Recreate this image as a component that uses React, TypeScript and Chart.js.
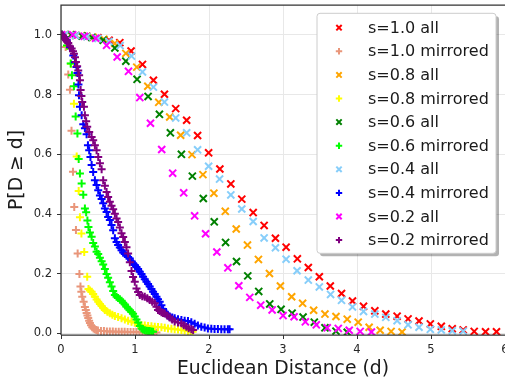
import React, { useEffect, useRef } from "react";
import { Chart, registerables } from "chart.js";

Chart.register(...registerables);

const seriesLabels = [
  "s=1.0 all", "s=1.0 mirrored", "s=0.8 all", "s=0.8 mirrored", "s=0.6 all",
  "s=0.6 mirrored", "s=0.4 all", "s=0.4 mirrored", "s=0.2 all", "s=0.2 mirrored",
];
const seriesColors = [
  "#ff0000", "#e9967a", "#ffa500", "#ffff00", "#008000",
  "#00ff00", "#87cefa", "#0000ff", "#ff00ff", "#800080",
];
const seriesMarkers = [
  "crossRot", "cross", "crossRot", "cross", "crossRot",
  "cross", "crossRot", "cross", "crossRot", "cross",
];

const xTicks = [0, 1, 2, 3, 4, 5, 6];
const yTicks = [0, 0.2, 0.4, 0.6, 0.8, 1.0];

type P = [number, number];

const s10All: P[] = [
  [0.05, 1.0], [0.2, 0.998], [0.35, 0.995], [0.5, 0.99], [0.65, 0.982], [0.795, 0.974], [0.947, 0.946],
  [1.101, 0.901], [1.249, 0.848], [1.398, 0.801], [1.55, 0.753], [1.698, 0.714], [1.846, 0.663],
  [1.995, 0.605], [2.147, 0.551], [2.295, 0.501], [2.443, 0.45], [2.597, 0.405], [2.745, 0.362],
  [2.898, 0.319], [3.042, 0.289], [3.194, 0.25], [3.342, 0.221], [3.491, 0.19], [3.639, 0.159],
  [3.791, 0.134], [3.939, 0.109], [4.088, 0.091], [4.241, 0.076], [4.389, 0.065], [4.542, 0.058],
  [4.69, 0.049], [4.838, 0.042], [4.991, 0.032], [5.139, 0.024], [5.287, 0.016], [5.435, 0.012],
  [5.584, 0.007], [5.737, 0.006], [5.885, 0.006],
];

const s10Mirrored: P[] = [
  [0.013, 1.0], [0.027, 0.995], [0.04, 0.988], [0.063, 0.959], [0.098, 0.867], [0.121, 0.816],
  [0.142, 0.679], [0.162, 0.542], [0.179, 0.424], [0.202, 0.347], [0.225, 0.268], [0.249, 0.199],
  [0.263, 0.157], [0.275, 0.14], [0.287, 0.123], [0.306, 0.106], [0.323, 0.089], [0.335, 0.079],
  [0.346, 0.069], [0.357, 0.06], [0.368, 0.052], [0.38, 0.043], [0.391, 0.035], [0.405, 0.028],
  [0.422, 0.021], [0.44, 0.017], [0.458, 0.014], [0.478, 0.012], [0.499, 0.01], [0.54, 0.008],
  [0.58, 0.008], [0.62, 0.007], [0.66, 0.007], [0.7, 0.007], [0.74, 0.006], [0.78, 0.006],
  [0.82, 0.006], [0.86, 0.006], [0.9, 0.005], [0.94, 0.005], [0.98, 0.005], [1.02, 0.005],
  [1.06, 0.004], [1.1, 0.004], [1.14, 0.004], [1.18, 0.004], [1.22, 0.003], [1.26, 0.003], [1.29, 0.003],
];

const s08All: P[] = [
  [0.136, 1.0], [0.284, 0.997], [0.432, 0.992], [0.58, 0.985], [0.728, 0.971], [0.876, 0.938],
  [1.024, 0.892], [1.173, 0.828], [1.321, 0.774], [1.469, 0.725], [1.617, 0.664], [1.77, 0.599],
  [1.918, 0.532], [2.066, 0.47], [2.22, 0.409], [2.368, 0.35], [2.52, 0.296], [2.668, 0.248],
  [2.817, 0.201], [2.965, 0.159], [3.117, 0.123], [3.265, 0.101], [3.414, 0.078], [3.567, 0.065],
  [3.716, 0.057], [3.868, 0.048], [4.016, 0.038], [4.164, 0.021], [4.313, 0.011], [4.461, 0.007],
  [4.609, 0.005],
];

const s08Mirrored: P[] = [
  [0.013, 1.0], [0.04, 0.993], [0.081, 0.963], [0.135, 0.903], [0.175, 0.769], [0.212, 0.593],
  [0.239, 0.477], [0.256, 0.389], [0.276, 0.335], [0.314, 0.273], [0.354, 0.19], [0.371, 0.149],
  [0.391, 0.144], [0.414, 0.14], [0.435, 0.132], [0.458, 0.123], [0.481, 0.114], [0.503, 0.106],
  [0.526, 0.099], [0.549, 0.092], [0.571, 0.085], [0.593, 0.079], [0.627, 0.073], [0.66, 0.068],
  [0.694, 0.063], [0.728, 0.059], [0.772, 0.055], [0.818, 0.051], [0.863, 0.047], [0.907, 0.043],
  [0.953, 0.039], [0.997, 0.036], [1.042, 0.032], [1.088, 0.028], [1.132, 0.027], [1.177, 0.025],
  [1.222, 0.024], [1.267, 0.023], [1.311, 0.022], [1.357, 0.021], [1.402, 0.019], [1.446, 0.017],
  [1.492, 0.016], [1.536, 0.014], [1.581, 0.013], [1.627, 0.012], [1.671, 0.01], [1.716, 0.008],
  [1.752, 0.007], [1.779, 0.006],
];

const s06All: P[] = [
  [0.136, 1.0], [0.284, 0.996], [0.418, 0.991], [0.57, 0.982], [0.728, 0.956], [0.876, 0.912],
  [1.028, 0.851], [1.177, 0.794], [1.33, 0.734], [1.478, 0.672], [1.627, 0.6], [1.775, 0.527],
  [1.923, 0.452], [2.071, 0.374], [2.224, 0.305], [2.372, 0.241], [2.524, 0.193], [2.672, 0.141],
  [2.821, 0.099], [2.974, 0.081], [3.123, 0.068], [3.271, 0.055], [3.423, 0.038], [3.567, 0.019],
  [3.716, 0.008], [3.868, 0.004],
];

const s06Mirrored: P[] = [
  [0.013, 1.0], [0.04, 0.99], [0.081, 0.964], [0.131, 0.904], [0.148, 0.865], [0.175, 0.828],
  [0.198, 0.727], [0.222, 0.67], [0.239, 0.584], [0.256, 0.536], [0.279, 0.502], [0.301, 0.465],
  [0.323, 0.419], [0.34, 0.406], [0.357, 0.378], [0.371, 0.357], [0.391, 0.338], [0.414, 0.324],
  [0.435, 0.303], [0.458, 0.291], [0.481, 0.274], [0.503, 0.266], [0.526, 0.254], [0.549, 0.242],
  [0.57, 0.231], [0.593, 0.216], [0.616, 0.199], [0.637, 0.187], [0.66, 0.172], [0.683, 0.157],
  [0.705, 0.142], [0.728, 0.129], [0.751, 0.123], [0.772, 0.119], [0.795, 0.115], [0.818, 0.11],
  [0.84, 0.103], [0.863, 0.097], [0.885, 0.09], [0.907, 0.084], [0.93, 0.078], [0.953, 0.072],
  [0.974, 0.066], [0.997, 0.057], [1.02, 0.047], [1.042, 0.037], [1.065, 0.025], [1.088, 0.017],
  [1.109, 0.013], [1.132, 0.011], [1.155, 0.009], [1.177, 0.008], [1.199, 0.008], [1.222, 0.007],
  [1.244, 0.006],
];

const s04All: P[] = [
  [0.05, 1.0], [0.2, 0.998], [0.35, 0.994], [0.5, 0.988], [0.647, 0.978], [0.799, 0.964],
  [0.953, 0.929], [1.101, 0.876], [1.249, 0.825], [1.398, 0.775], [1.55, 0.722], [1.698, 0.672],
  [1.846, 0.615], [1.995, 0.56], [2.143, 0.517], [2.295, 0.464], [2.443, 0.417], [2.597, 0.375],
  [2.745, 0.32], [2.898, 0.287], [3.042, 0.249], [3.19, 0.21], [3.342, 0.179], [3.491, 0.156],
  [3.643, 0.131], [3.791, 0.111], [3.939, 0.089], [4.088, 0.074], [4.241, 0.065], [4.389, 0.054],
  [4.542, 0.043], [4.69, 0.029], [4.838, 0.021], [4.991, 0.014], [5.139, 0.012], [5.287, 0.009],
  [5.435, 0.008],
];

const s04Mirrored: P[] = [
  [0.013, 1.0], [0.04, 0.993], [0.077, 0.983], [0.121, 0.959], [0.166, 0.931], [0.189, 0.908],
  [0.209, 0.892], [0.222, 0.872], [0.236, 0.834], [0.243, 0.798], [0.256, 0.759], [0.279, 0.731],
  [0.301, 0.701], [0.323, 0.687], [0.346, 0.667], [0.364, 0.63], [0.381, 0.614], [0.398, 0.591],
  [0.414, 0.564], [0.435, 0.541], [0.458, 0.513], [0.481, 0.497], [0.503, 0.48], [0.526, 0.462],
  [0.549, 0.45], [0.57, 0.436], [0.593, 0.419], [0.616, 0.407], [0.637, 0.39], [0.66, 0.38],
  [0.683, 0.363], [0.705, 0.346], [0.728, 0.319], [0.751, 0.306], [0.772, 0.296], [0.795, 0.288],
  [0.818, 0.279], [0.84, 0.271], [0.863, 0.266], [0.885, 0.261], [0.907, 0.256], [0.93, 0.251],
  [0.953, 0.242], [0.974, 0.235], [0.997, 0.229], [1.02, 0.223], [1.042, 0.216], [1.065, 0.207],
  [1.088, 0.199], [1.109, 0.19], [1.132, 0.182], [1.155, 0.173], [1.177, 0.166], [1.199, 0.157],
  [1.222, 0.149], [1.244, 0.14], [1.267, 0.132], [1.29, 0.123], [1.311, 0.115], [1.334, 0.106],
  [1.357, 0.095], [1.379, 0.082], [1.402, 0.073], [1.425, 0.067], [1.446, 0.06], [1.469, 0.056],
  [1.503, 0.054], [1.536, 0.051], [1.581, 0.048], [1.627, 0.045], [1.671, 0.043], [1.716, 0.042],
  [1.761, 0.038], [1.806, 0.033], [1.85, 0.027], [1.896, 0.023], [1.941, 0.02], [1.985, 0.017],
  [2.031, 0.016], [2.075, 0.015], [2.12, 0.015], [2.166, 0.014], [2.21, 0.014], [2.255, 0.014],
  [2.278, 0.014],
];

const s02All: P[] = [
  [0.01, 1.0], [0.158, 1.0], [0.314, 0.995], [0.468, 0.989], [0.616, 0.965], [0.759, 0.926],
  [0.912, 0.878], [1.065, 0.79], [1.209, 0.704], [1.361, 0.616], [1.509, 0.537], [1.658, 0.471],
  [1.806, 0.394], [1.954, 0.334], [2.106, 0.273], [2.255, 0.22], [2.403, 0.16], [2.551, 0.121],
  [2.699, 0.095], [2.853, 0.079], [3.001, 0.06], [3.15, 0.056], [3.302, 0.039], [3.45, 0.029],
  [3.598, 0.019], [3.747, 0.017], [3.895, 0.011], [4.043, 0.007], [4.195, 0.005],
];

const s02Mirrored: P[] = [
  [0.013, 1.0], [0.027, 0.998], [0.04, 0.992], [0.054, 0.987], [0.067, 0.982], [0.081, 0.978],
  [0.098, 0.973], [0.121, 0.962], [0.144, 0.954], [0.162, 0.945], [0.175, 0.937], [0.189, 0.925],
  [0.202, 0.909], [0.218, 0.895], [0.233, 0.881], [0.245, 0.865], [0.256, 0.848], [0.265, 0.815],
  [0.276, 0.795], [0.287, 0.775], [0.31, 0.759], [0.323, 0.731], [0.34, 0.711], [0.354, 0.692],
  [0.381, 0.675], [0.414, 0.658], [0.435, 0.647], [0.458, 0.63], [0.481, 0.614], [0.503, 0.591],
  [0.526, 0.57], [0.549, 0.55], [0.57, 0.513], [0.593, 0.495], [0.616, 0.474], [0.637, 0.457],
  [0.66, 0.441], [0.683, 0.428], [0.705, 0.416], [0.728, 0.401], [0.751, 0.385], [0.772, 0.373],
  [0.795, 0.355], [0.818, 0.336], [0.84, 0.323], [0.863, 0.306], [0.885, 0.289], [0.907, 0.268],
  [0.93, 0.239], [0.953, 0.209], [0.974, 0.189], [0.997, 0.173], [1.02, 0.151], [1.042, 0.139],
  [1.065, 0.129], [1.098, 0.125], [1.132, 0.123], [1.166, 0.118], [1.199, 0.112], [1.233, 0.106],
  [1.267, 0.101], [1.29, 0.09], [1.311, 0.079], [1.334, 0.075], [1.357, 0.071], [1.379, 0.069],
  [1.402, 0.067], [1.435, 0.06], [1.469, 0.054], [1.503, 0.047], [1.536, 0.04], [1.581, 0.037],
  [1.627, 0.034], [1.658, 0.028], [1.694, 0.023], [1.725, 0.018], [1.761, 0.014], [1.786, 0.012],
];

const seriesData: P[][] = [
  s10All, s10Mirrored, s08All, s08Mirrored, s06All,
  s06Mirrored, s04All, s04Mirrored, s02All, s02Mirrored,
];

function drawMarker(ctx: CanvasRenderingContext2D, style: string, x: number, y: number, r: number) {
  ctx.beginPath();
  if (style === "cross") {
    ctx.moveTo(x - r, y); ctx.lineTo(x + r, y);
    ctx.moveTo(x, y - r); ctx.lineTo(x, y + r);
  } else {
    const d = r * Math.SQRT1_2;
    ctx.moveTo(x - d, y - d); ctx.lineTo(x + d, y + d);
    ctx.moveTo(x - d, y + d); ctx.lineTo(x + d, y - d);
  }
  ctx.stroke();
}

function roundRect(ctx: CanvasRenderingContext2D, x: number, y: number, w: number, h: number, r: number) {
  ctx.beginPath();
  ctx.moveTo(x + r, y);
  ctx.lineTo(x + w - r, y);
  ctx.quadraticCurveTo(x + w, y, x + w, y + r);
  ctx.lineTo(x + w, y + h - r);
  ctx.quadraticCurveTo(x + w, y + h, x + w - r, y + h);
  ctx.lineTo(x + r, y + h);
  ctx.quadraticCurveTo(x, y + h, x, y + h - r);
  ctx.lineTo(x, y + r);
  ctx.quadraticCurveTo(x, y, x + r, y);
  ctx.closePath();
}

const spinePlugin = {
  id: "spines",
  afterDatasetsDraw(chart: any) {
    const { ctx, chartArea: a } = chart;
    ctx.save();
    ctx.strokeStyle = "#333333";
    ctx.lineWidth = 1.25;
    ctx.beginPath();
    ctx.moveTo(a.left, a.bottom);
    ctx.lineTo(a.left, a.top);
    ctx.lineTo(a.right, a.top);
    ctx.moveTo(a.left, a.bottom);
    ctx.lineTo(a.right, a.bottom);
    ctx.stroke();
    ctx.restore();
  },
};

const legendPlugin = {
  id: "boxLegend",
  afterDraw(chart: any) {
    const { ctx, chartArea: a } = chart;
    const bx = a.right - 188;
    const by = a.top + 8.3;
    const bw = 179;
    const bh = 240;
    ctx.save();
    roundRect(ctx, bx + 3, by + 3, bw, bh, 3);
    ctx.fillStyle = "rgba(0,0,0,0.3)";
    ctx.fill();
    roundRect(ctx, bx, by, bw, bh, 3);
    ctx.fillStyle = "#ffffff";
    ctx.fill();
    ctx.strokeStyle = "#cccccc";
    ctx.lineWidth = 1;
    ctx.stroke();
    ctx.font = '16px "DejaVu Sans"';
    ctx.textBaseline = "middle";
    ctx.textAlign = "left";
    seriesLabels.forEach((label, i) => {
      const cy = a.top + 22.7 + i * 23.6;
      ctx.strokeStyle = seriesColors[i];
      ctx.lineWidth = 2;
      drawMarker(ctx, seriesMarkers[i], a.right - 166, cy, seriesMarkers[i] === "cross" ? 3.2 : 3.8);
      ctx.fillStyle = "#1a1a1a";
      ctx.fillText(label, a.right - 137, cy + 1);
    });
    ctx.restore();
  },
};

export default function App() {
  const ref = useRef<HTMLCanvasElement>(null);
  useEffect(() => {
    document.body.style.margin = "0";
    if (!ref.current) return;
    const n = seriesData.length;
    const datasets = seriesData.map((pts, i) => ({
      label: seriesLabels[i],
      data: pts.map(([x, y]) => ({ x, y })),
      showLine: false,
      pointStyle: seriesMarkers[i],
      pointRadius: seriesMarkers[i] === "cross" ? 4 : 5,
      pointBorderWidth: 2,
      pointBorderColor: seriesColors[i],
      pointBackgroundColor: seriesColors[i],
      borderColor: seriesColors[i],
      backgroundColor: seriesColors[i],
      order: n - i,
    }));
    const tickFont = { family: "DejaVu Sans", size: 11.5 };
    const titleFont = { family: "DejaVu Sans", size: 18.8 };
    const chart = new Chart(ref.current, {
      type: "scatter",
      data: { datasets },
      options: {
        responsive: false,
        animation: false,
        events: [],
        layout: { autoPadding: false, padding: { top: 5, left: 0, right: 0, bottom: 0 } },
        plugins: { legend: { display: false }, tooltip: { enabled: false } },
        scales: {
          x: {
            type: "linear",
            min: 0,
            max: 6,
            afterBuildTicks: (s: any) => { s.ticks = xTicks.map((v) => ({ value: v })); },
            afterFit: (s: any) => { s.height = 48; s.paddingLeft = 0; s.paddingRight = 0; },
            ticks: {
              callback: (v: any) => String(v),
              font: tickFont,
              color: "#262626",
              padding: 4,
              maxRotation: 0,
              autoSkip: false,
            },
            grid: { color: "#e8e8e8", lineWidth: 1, tickColor: "#333333", tickLength: 4, tickWidth: 1 },
            border: { display: false },
            title: {
              display: true,
              text: "Euclidean Distance (d)",
              font: titleFont,
              color: "#1a1a1a",
              padding: { top: 0, bottom: 3 },
            },
          },
          y: {
            type: "linear",
            min: -0.005,
            max: 1.1,
            afterBuildTicks: (s: any) => { s.ticks = yTicks.map((v) => ({ value: v })); },
            afterFit: (s: any) => { s.width = 61; s.paddingTop = 0; s.paddingBottom = 0; },
            ticks: {
              callback: (v: any) => Number(v).toFixed(1),
              font: tickFont,
              color: "#262626",
              padding: 5,
              autoSkip: false,
            },
            grid: { color: "#e8e8e8", lineWidth: 1, tickColor: "#333333", tickLength: 4, tickWidth: 1 },
            border: { display: false },
            title: {
              display: true,
              text: "P[D ≥ d]",
              font: titleFont,
              color: "#1a1a1a",
              padding: { top: 6, bottom: 0 },
            },
          },
        },
      } as any,
      plugins: [spinePlugin, legendPlugin],
    });
    return () => chart.destroy();
  }, []);
  return <canvas ref={ref} width={505} height={383} style={{ display: "block" }} />;
}
